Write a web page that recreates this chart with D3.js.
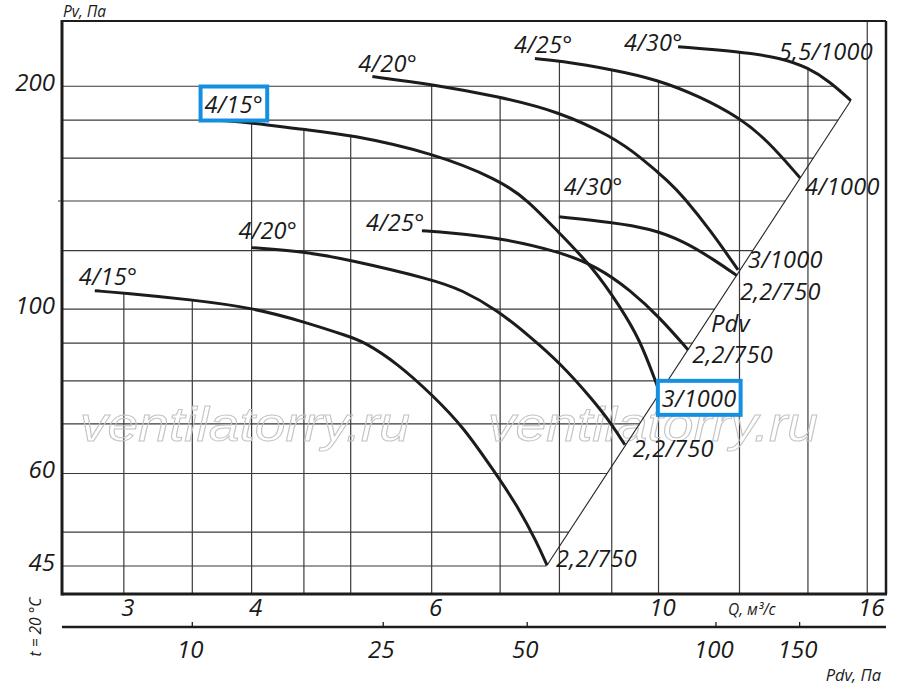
<!DOCTYPE html>
<html>
<head>
<meta charset="utf-8">
<script src="https://cdn.jsdelivr.net/npm/d3@7"></script>
<style>
  body { margin: 0; background: #fff; }
  text { font-family: "Open Sans", sans-serif; font-style: italic; fill: #1a1a1a; }
</style>
</head>
<body>
<svg id="chart" width="900" height="689"></svg>
<script>
// сетка и подписи осей
var qGrid = [3, 3.5, 4, 4.5, 5, 6, 7, 8, 9, 10, 12, 14, 16];
var pvGrid = [45, 50, 60, 70, 80, 90, 100, 120, 140, 160, 180, 200];
var qTicks = [3, 4, 6, 10, 16];
var pvTicks = [45, 60, 100, 200];
var pdvTicks = [10, 25, 50, 100, 150];
var pdvAtQ = [3.5, 5.38, 7.44, 11.38, 13.74]; // где стоит деление Pdv на шкале Q

// характеристики: угол лопаток и двигатель кВт/об
var angleNames = ["4/15°", "4/20°", "4/25°", "4/30°", "4/15°", "4/20°", "4/25°", "4/30°"];
var motorNames = ["2,2/750", "2,2/750", "2,2/750", "2,2/750", "3/1000", "3/1000", "4/1000", "5,5/1000"];

var q15_750 = [2.81, 3.0, 3.49, 4.0, 4.5, 4.99, 5.14, 5.55, 6.02, 6.44, 6.89, 7.27, 7.6, 7.78];
var pv15_750 = [105.9, 105.2, 103.0, 100.5, 96.2, 91.8, 90.5, 84.6, 76.4, 69.4, 60.7, 54.4, 48.5, 45.1];
var q20_750 = [4.0, 4.5, 4.99, 6.02, 6.42, 6.95, 7.49, 8.01, 8.63, 9.01, 9.27];
var pv20_750 = [121.1, 119.6, 116.6, 109.6, 106.2, 99.8, 91.8, 84.6, 75.4, 69.8, 65.6];
var q25_750 = [5.87, 6.25, 6.98, 8.01, 8.71, 9.38, 10.03, 10.69];
var pv25_750 = [127.6, 126.9, 124.9, 119.6, 114.1, 106.2, 97.4, 88.1];
var q30_750 = [7.99, 9.01, 9.81, 10.57, 11.4, 11.93];
var pv30_750 = [133.3, 131.0, 128.5, 123.7, 116.0, 111.0];
var q15_1000 = [3.73, 4.0, 4.5, 4.99, 6.02, 6.98, 7.44, 7.99, 8.63, 9.17, 9.59, 9.92, 10.03];
var pv15_1000 = [179.8, 178.6, 174.8, 172.1, 162.5, 149.6, 140.6, 126.9, 113.8, 100.8, 90.9, 80.3, 77.1];
var q20_1000 = [5.25, 6.02, 6.98, 7.99, 9.01, 9.59, 10.26, 10.57, 11.23, 11.96];
var pv20_1000 = [206.1, 201.1, 193.7, 184.9, 171.0, 160.7, 148.2, 141.9, 128.0, 113.0];
var q25_1000 = [7.57, 7.99, 9.01, 9.97, 10.98, 11.98, 12.76, 13.75];
var pv25_1000 = [218.0, 216.6, 210.7, 204.2, 193.7, 181.6, 169.4, 150.5];
var q30_1000 = [10.45, 11.98, 13.14, 14.0, 14.71, 15.42];
var pv30_1000 = [226.2, 222.8, 218.7, 212.0, 202.9, 191.3];

var curveQ = [q15_750, q20_750, q25_750, q30_750, q15_1000, q20_1000, q25_1000, q30_1000];
var curvePv = [pv15_750, pv20_750, pv25_750, pv30_750, pv15_1000, pv20_1000, pv25_1000, pv30_1000];

// сдвиг подписей от начала и конца кривой (px)
var startShift = [[-16, -6], [-13, -9], [-56, 0], [5, -22], [-16, -8], [-14, -5], [-21, -6], [-54, 4]];
var endShift = [[9, 2], [8, 12], [4, 13], [3, 24], [2, 14], [10, -2], [5, 17], [-72, -41]];
var boxed = [false, false, false, false, true, false, false, false];

var L = 62, R = 886, T = 21, B = 594;
var svg = d3.select("#chart");
var x = d3.scaleLog().domain([2.61, 16.69]).range([L, R]);
var y = d3.scaleLog().domain([41.25, 245]).range([B, T]);
var xPdv = d3.scaleLog().domain(pdvTicks).range(pdvAtQ.map(function (q) { return x(q); }));

var curves = curveQ.map(function (qs, i) {
	return qs.map(function (q, j) { return [q, curvePv[i][j]]; });
});

// значение кривой при заданном Q (линейно в лог-лог), null если кривая не доходит
function pvAt(c, q) {
	if (q < c[0][0] || q > c[c.length - 1][0]) return null;
	for (var k = 1; k < c.length; k++) {
		if (q <= c[k][0]) {
			var t = Math.log(q / c[k - 1][0]) / Math.log(c[k][0] / c[k - 1][0]);
			return Math.exp(Math.log(c[k - 1][1]) + t * Math.log(c[k][1] / c[k - 1][1]));
		}
	}
	return null;
}

// линия Pdv идёт от конца нижней кривой до конца верхней
var dA = curves[0][curves[0].length - 1];
var dH = curves[7][curves[7].length - 1];
function diagQ(pv) {
	var t = Math.log(pv / dA[1]) / Math.log(dH[1] / dA[1]);
	return Math.exp(Math.log(dA[0]) + t * Math.log(dH[0] / dA[0]));
}
function rightQ(pv) {
	if (pv <= dH[1]) return diagQ(pv);
	var c = curves[7];
	for (var k = 1; k < c.length; k++) {
		if (pv >= c[k][1]) {
			var t = Math.log(pv / c[k - 1][1]) / Math.log(c[k][1] / c[k - 1][1]);
			return Math.exp(Math.log(c[k - 1][0]) + t * Math.log(c[k][0] / c[k - 1][0]));
		}
	}
	return c[0][0];
}

var grid = svg.append("g").attr("stroke", "#3a3a3a").attr("stroke-width", 1.2);

// вертикали начинаются от верхней огибающей кривых
qGrid.forEach(function (q) {
	var top = null;
	curves.forEach(function (c) {
		var v = pvAt(c, q);
		if (v != null && (top == null || v > top)) top = v;
	});
	grid.append("line")
		.attr("x1", x(q)).attr("x2", x(q))
		.attr("y1", top == null ? T : y(top)).attr("y2", B);
});

// горизонтали до линии Pdv
pvGrid.forEach(function (v) {
	grid.append("line")
		.attr("x1", v == 140 ? L - 4 : L).attr("x2", x(rightQ(v)))
		.attr("y1", y(v)).attr("y2", y(v));
});

// водяной знак
["ventilatorry.ru", "ventilatorry.ru"].forEach(function (s, i) {
	svg.append("text")
		.attr("x", i == 0 ? 80 : 488).attr("y", 441)
		.attr("textLength", 330).attr("lengthAdjust", "spacingAndGlyphs")
		.style("font-family", "'Liberation Sans', Arial, sans-serif")
		.style("font-size", "48px")
		.style("fill", "none").style("stroke", "#c4c4c4").style("stroke-width", 1)
		.text(s);
});

// линия Pdv
svg.append("line")
	.attr("x1", x(dA[0])).attr("y1", y(dA[1]))
	.attr("x2", x(dH[0])).attr("y2", y(dH[1]))
	.attr("stroke", "#222").attr("stroke-width", 1.1);

var line = d3.line()
	.x(function (d) { return x(d[0]); })
	.y(function (d) { return y(d[1]); })
	.curve(d3.curveBasis);

svg.append("g").selectAll("path").data(curves).join("path")
	.attr("d", line)
	.attr("fill", "none")
	.attr("stroke", "#1c1c1c")
	.attr("stroke-width", 3);

// рамка
var frame = svg.append("g").attr("stroke", "#1c1c1c");
frame.append("line").attr("x1", L).attr("x2", R).attr("y1", T).attr("y2", T).attr("stroke-width", 2);
frame.append("line").attr("x1", R).attr("x2", R).attr("y1", T).attr("y2", B).attr("stroke-width", 2.5);
frame.append("line").attr("x1", L).attr("x2", L).attr("y1", T - 1).attr("y2", B + 1.5).attr("stroke-width", 3);
frame.append("line").attr("x1", L).attr("x2", R + 1).attr("y1", B).attr("y2", B).attr("stroke-width", 3);

// шкала Pdv
var pdvY = 627;
frame.append("line").attr("x1", L).attr("x2", R).attr("y1", pdvY).attr("y2", pdvY).attr("stroke-width", 2.3);
pdvTicks.forEach(function (p) {
	frame.append("line").attr("x1", xPdv(p)).attr("x2", xPdv(p))
		.attr("y1", pdvY - 5).attr("y2", pdvY).attr("stroke-width", 1.3);
	svg.append("text").attr("x", xPdv(p) - 2).attr("y", 658)
		.attr("text-anchor", "middle").style("font-size", "24px").text(p);
});

pvTicks.forEach(function (v) {
	svg.append("text").attr("x", 55).attr("y", y(v) + 5)
		.attr("text-anchor", "end").style("font-size", "24px").text(v);
});
qTicks.forEach(function (q) {
	svg.append("text").attr("x", x(q) + 4).attr("y", 616)
		.attr("text-anchor", "middle").style("font-size", "24px").text(q);
});

svg.append("text").attr("x", 63).attr("y", 17).style("font-size", "15.5px").text("Pv, Па");
svg.append("text").attr("x", 728).attr("y", 615).style("font-size", "15.5px").text("Q, м³/с");
svg.append("text").attr("x", 881).attr("y", 681).attr("text-anchor", "end").style("font-size", "16.5px").text("Pdv, Па");
svg.append("text").attr("transform", "translate(41,627) rotate(-90)")
	.attr("text-anchor", "middle").style("font-size", "15.5px").text("t = 20 °C");
svg.append("text").attr("x", 711).attr("y", 332).style("font-size", "24px").text("Pdv");

// подписи кривых
var labels = svg.append("g");
function addLabel(px, py, s, withBox) {
	var t = labels.append("text").attr("x", px).attr("y", py)
		.style("font-size", "23.5px").style("letter-spacing", "0.3px").text(s);
	if (withBox) {
		var b = t.node().getBBox();
		labels.insert("rect", function () { return t.node(); })
			.attr("x", b.x - 4).attr("y", b.y - 1)
			.attr("width", b.width + 8).attr("height", b.height + 2)
			.attr("fill", "#fff").attr("stroke", "#1590e0").attr("stroke-width", 4);
	}
}
curves.forEach(function (c, i) {
	var s = c[0], e = c[c.length - 1];
	addLabel(x(s[0]) + startShift[i][0], y(s[1]) + startShift[i][1], angleNames[i], boxed[i]);
	addLabel(x(e[0]) + endShift[i][0], y(e[1]) + endShift[i][1], motorNames[i], boxed[i]);
});
</script>
</body>
</html>
